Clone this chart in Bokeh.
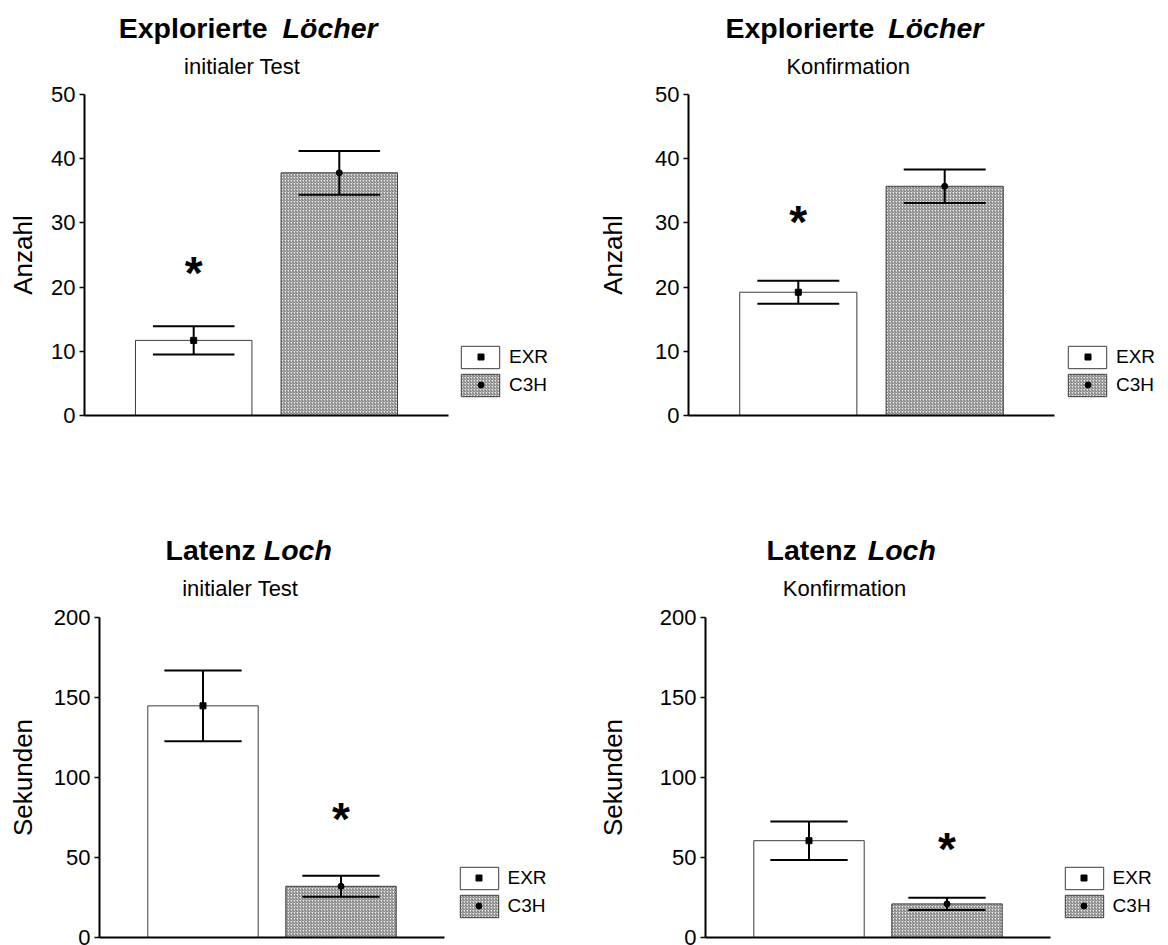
import math
from bokeh.plotting import figure
from bokeh.layouts import column, row
from bokeh.models import ColumnDataSource, Range1d, Label, Legend, LegendItem, FixedTicker
from bokeh.core.properties import value
from bokeh.embed import file_html
from bokeh.resources import INLINE

# ---------------- data ----------------
groups = ["EXR", "C3H"]
group_x = [1, 2]

holes_init_mean = [11.7, 37.8]
holes_init_sem = [2.2, 3.4]
holes_conf_mean = [19.2, 35.7]
holes_conf_sem = [1.8, 2.6]
lat_init_mean = [144.8, 32.0]
lat_init_sem = [22.1, 6.6]
lat_conf_mean = [60.5, 21.0]
lat_conf_sem = [12.0, 3.8]

# significance stars: (group index, y position)
holes_init_star = (0, 23.0)
holes_conf_star = (0, 30.9)
lat_init_star = (1, 77.0)
lat_conf_star = (1, 58.4)

ticks_holes = [0, 10, 20, 30, 40, 50]
ticks_lat = [0, 50, 100, 150, 200]

title_main = ["Explorierte", "Explorierte", "Latenz", "Latenz"]
title_ital = ["Löcher", "Löcher", "Loch", "Loch"]
subtitles = ["initialer Test", "Konfirmation", "initialer Test", "Konfirmation"]
ylabels = ["Anzahl", "Anzahl", "Sekunden", "Sekunden"]

FONT = "Liberation Sans"
CAP = 0.28
X0, X1 = 0.25, 2.75


def make_panel(means, sems, star, ticks, tmain, tital, sub, ylab,
               fig_w, fig_h, left, frame_w, top, frame_h,
               title_gap_x, title_gap, sub_x, leg_x, leg_y):
    ymax = ticks[-1]
    # plot area (axes box) in canvas pixels: left..left+frame_w, top..top+frame_h
    # the Bokeh frame covers the whole canvas, the axes are drawn at fixed locations
    ppx = frame_w / (X1 - X0)
    ppy = frame_h / ymax
    x_start = X0 - left / ppx
    x_end = X0 + (fig_w - left) / ppx
    y_end = ymax + top / ppy
    y_start = -(fig_h - top - frame_h) / ppy
    p = figure(width=fig_w, height=fig_h, output_backend="svg", toolbar_location=None,
               x_range=Range1d(x_start, x_end), y_range=Range1d(y_start, y_end),
               min_border=0, min_border_left=0, min_border_right=0,
               min_border_top=0, min_border_bottom=0)
    p.outline_line_color = None
    p.xgrid.visible = False
    p.ygrid.visible = False
    p.background_fill_color = "white"
    p.border_fill_color = "white"

    # y axis
    ya = p.yaxis[0]
    ya.fixed_location = X0
    ya.ticker = FixedTicker(ticks=ticks)
    ya.bounds = (0, ymax)
    ya.axis_line_width = 2
    ya.axis_line_color = "black"
    ya.major_tick_line_width = 1.5
    ya.major_tick_out = 5
    ya.major_tick_in = 0
    ya.minor_tick_line_color = None
    ya.major_label_text_font = FONT
    ya.major_label_text_font_size = "22px"
    ya.major_label_text_color = "black"
    ya.major_label_standoff = 4

    # x axis: line only
    xa = p.xaxis[0]
    xa.fixed_location = 0
    xa.ticker = FixedTicker(ticks=[])
    xa.bounds = (X0, X1)
    xa.axis_line_width = 2
    xa.axis_line_color = "black"
    xa.major_tick_line_color = None
    xa.minor_tick_line_color = None
    xa.major_label_text_font_size = "0px"
    xa.major_label_standoff = 0

    fills = ["white", "#ececec"]
    hatches = [" ", "/"]
    markers = ["square", "circle"]
    bar_items, mark_items = [], []
    for i, g in enumerate(groups):
        src = ColumnDataSource(dict(
            x=[group_x[i]], top=[means[i]],
            lo=[means[i] - sems[i]], hi=[means[i] + sems[i]],
            cl=[group_x[i] - CAP], cr=[group_x[i] + CAP]))
        br = p.vbar(x="x", top="top", bottom=0, width=0.8, source=src,
                    fill_color=fills[i], line_color="#3c3c3c", line_width=1,
                    hatch_pattern=hatches[i], hatch_color="#6a6a6a",
                    hatch_scale=3, hatch_weight=1)
        p.segment(x0="x", y0="lo", x1="x", y1="hi", source=src, line_color="black", line_width=2)
        p.segment(x0="cl", y0="hi", x1="cr", y1="hi", source=src, line_color="black", line_width=2)
        p.segment(x0="cl", y0="lo", x1="cr", y1="lo", source=src, line_color="black", line_width=2)
        mr = p.scatter(x="x", y="top", source=src, marker=markers[i], size=6,
                       fill_color="black", line_color="black")
        bar_items.append(LegendItem(label=g, renderers=[br]))
        mark_items.append(LegendItem(label="", renderers=[mr]))

    ssrc = ColumnDataSource(dict(x=[group_x[star[0]]], y=[star[1]], t=["*"]))
    p.text(x="x", y="y", text="t", source=ssrc, text_font=value(FONT),
           text_font_size="46px", text_font_style="bold", text_align="center",
           text_baseline="middle", y_offset=5, text_color="black")

    # legend: boxes with labels
    leg = Legend(items=bar_items, location=(leg_x, leg_y))
    leg.glyph_width = 48
    leg.glyph_height = 28
    leg.spacing = 0
    leg.padding = 0
    leg.margin = 0
    leg.label_standoff = 5
    leg.label_text_font = FONT
    leg.label_text_font_size = "19px"
    leg.label_text_color = "black"
    leg.border_line_color = None
    leg.background_fill_alpha = 0
    p.add_layout(leg, "center")
    # legend: small markers centred in the boxes
    leg2 = Legend(items=mark_items, location=(leg_x + 16.5, leg_y + 6.5))
    leg2.glyph_width = 15
    leg2.glyph_height = 15
    leg2.label_height = 15
    leg2.label_width = 0
    leg2.label_standoff = 0
    leg2.label_text_font_size = "1px"
    leg2.spacing = 13
    leg2.padding = 0
    leg2.margin = 0
    leg2.border_line_color = None
    leg2.background_fill_alpha = 0
    p.add_layout(leg2, "center")

    # titles
    p.add_layout(Label(x=title_gap_x - title_gap / 2, y=fig_h - 27, x_units="screen", y_units="screen",
                       text=tmain, text_font=FONT, text_font_size="28.5px", text_font_style="bold",
                       text_align="right", text_baseline="alphabetic", text_color="black"))
    p.add_layout(Label(x=title_gap_x + title_gap / 2, y=fig_h - 27, x_units="screen", y_units="screen",
                       text=tital, text_font=FONT, text_font_size="28.5px", text_font_style="bold italic",
                       text_align="left", text_baseline="alphabetic", text_color="black"))
    p.add_layout(Label(x=sub_x, y=fig_h - 66, x_units="screen", y_units="screen",
                       text=sub, text_font=FONT, text_font_size="22px", text_font_style="normal",
                       text_align="center", text_baseline="alphabetic", text_color="black"))
    # y axis label
    p.add_layout(Label(x=22, y=fig_h - (top + frame_h / 2), x_units="screen", y_units="screen",
                       angle=math.pi / 2, text=ylab, text_font=FONT, text_font_size="26px",
                       text_align="center", text_baseline="middle", text_color="black"))
    return p


p1 = make_panel(holes_init_mean, holes_init_sem, holes_init_star, ticks_holes,
                title_main[0], title_ital[0], subtitles[0], ylabels[0],
                590, 522, 84, 364, 94, 321, 274.6, 15, 241.7, 456, 123.5)
p2 = make_panel(holes_conf_mean, holes_conf_sem, holes_conf_star, ticks_holes,
                title_main[1], title_ital[1], subtitles[1], ylabels[1],
                578, 522, 98, 366, 94, 321, 290.8, 14, 257.7, 473, 123.5)
p3 = make_panel(lat_init_mean, lat_init_sem, lat_init_star, ticks_lat,
                title_main[2], title_ital[2], subtitles[2], ylabels[2],
                590, 423, 99, 345, 95, 320, 259.3, 8, 239.8, 454.5, 25.2)
p4 = make_panel(lat_conf_mean, lat_conf_sem, lat_conf_star, ticks_lat,
                title_main[3], title_ital[3], subtitles[3], ylabels[3],
                578, 423, 115, 345, 95, 320, 271.8, 11, 254, 469.6, 25.2)

layout = column(row(p1, p2, spacing=0), row(p3, p4, spacing=0), spacing=0)
open("out.html", "w").write(file_html(layout, INLINE))
